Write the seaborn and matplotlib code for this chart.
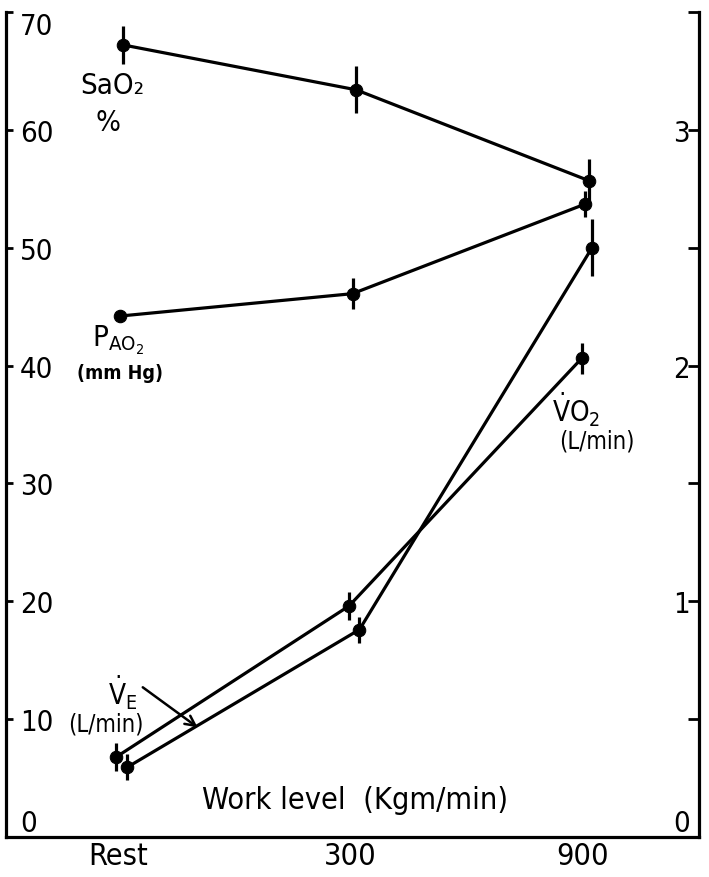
import numpy as np
import pandas as pd
import matplotlib
matplotlib.use("Agg")
import matplotlib.pyplot as plt
import seaborn as sns

# ---------------- data ----------------
work_levels = ["Rest", "300", "900"]
sao2 = [67.2, 63.4, 55.7]          # % (left axis)
sao2_err = [1.6, 2.0, 1.8]
pao2 = [44.2, 46.1, 53.7]          # mm Hg (left axis)
pao2_err = [0.5, 1.3, 1.1]
ve = [5.9, 17.6, 50.0]             # L/min (left axis)
ve_err = [1.1, 1.1, 2.4]
vo2 = [0.34, 0.98, 2.03]           # L/min (right axis)
vo2_err = [0.06, 0.06, 0.065]

left_ticks = [0, 10, 20, 30, 40, 50, 60, 70]
right_major = [0, 1, 2, 3]
right_minor = [0.5, 1.5, 2.5, 3.5]

# ---------------- style ----------------
sns.set_style("white")
plt.rcParams["font.family"] = ["DejaVu Sans"]
plt.rcParams["font.stretch"] = "condensed"
plt.rcParams["mathtext.fontset"] = "dejavusans"
plt.rcParams["text.color"] = "black"
plt.rcParams["axes.labelcolor"] = "black"
plt.rcParams["xtick.color"] = "black"
plt.rcParams["ytick.color"] = "black"

LW = 2.3
fig = plt.figure(figsize=(7.09, 8.78), dpi=100)
ax = fig.add_axes([0.0085, 0.0456, 0.9774, 0.9396])
ax2 = ax.twinx()

xpos = np.arange(len(work_levels), dtype=float)
series = [
    (ax, sao2, sao2_err, 0.025),
    (ax, pao2, pao2_err, 0.01),
    (ax, ve, ve_err, 0.04),
    (ax2, vo2, vo2_err, -0.005),
]
for a, vals, err, off in series:
    xs = xpos + off
    sns.lineplot(x=xs, y=vals, ax=a, color="k", lw=LW, sort=False,
                 errorbar=None, marker="o", markersize=9,
                 markeredgecolor="k", markerfacecolor="k")
    a.errorbar(xs, vals, yerr=err, fmt="none", ecolor="k",
               elinewidth=LW, capsize=0)

# ---------------- axes ----------------
ax.set_xlim(-0.48, 2.5)
ax.set_ylim(0, 70)
ax2.set_ylim(0, 3.5)

for a in (ax, ax2):
    a.spines["top"].set_visible(False)
    for s in a.spines.values():
        s.set_linewidth(LW)
        s.set_color("k")
ax2.spines["left"].set_visible(False)
ax2.spines["bottom"].set_visible(False)
ax.spines["right"].set_visible(False)

ax.set_xticks(xpos)
ax.set_xticklabels(work_levels)
ax.tick_params(axis="x", direction="in", length=7, width=1.5,
               labelsize=22, pad=3, colors="k")

ax.set_yticks(left_ticks)
ax.set_yticklabels([str(t) for t in left_ticks])
ax.tick_params(axis="y", direction="in", length=5, width=2,
               labelsize=21, pad=-10, colors="k")
for lbl in ax.get_yticklabels():
    lbl.set_horizontalalignment("left")
ylbls = ax.get_yticklabels()
ylbls[0].set_verticalalignment("bottom")
ylbls[-1].set_verticalalignment("top")

ax2.set_yticks(right_major)
ax2.set_yticklabels([str(t) for t in right_major])
ax2.set_yticks(right_minor, minor=True)
ax2.tick_params(axis="y", which="both", direction="in", length=8, width=2,
                labelsize=21, pad=-6.5, colors="k")
for lbl in ax2.get_yticklabels():
    lbl.set_horizontalalignment("right")
ax2.get_yticklabels()[0].set_verticalalignment("bottom")

ax.set_xlabel("")
ax.set_ylabel("")
ax2.set_ylabel("")

# ---------------- labels inside the plot ----------------
txt = dict(color="black", ha="center", va="center")
ax.text(-0.022, 63.8, "SaO₂", fontsize=21, **txt)
ax.text(-0.043, 60.7, "%", fontsize=21, **txt)
ax.text(0.0, 42.2, r"P$_{\mathrm{AO}_2}$", fontsize=21, **txt)
ax.text(0.01, 39.4, "(mm Hg)", fontsize=14, fontweight="bold", **txt)
ax.text(0.02, 12.3, r"$\dot{\mathrm{V}}_{\mathrm{E}}$", fontsize=20, **txt)
ax.text(-0.052, 9.6, "(L/min)", fontsize=17, **txt)
ax.annotate("", xy=(0.344, 9.3), xytext=(0.108, 12.7),
            arrowprops=dict(arrowstyle="->", color="k", lw=1.8,
                            shrinkA=0, shrinkB=0, mutation_scale=18))
ax.text(1.974, 36.3, r"$\dot{\mathrm{V}}\mathrm{O}_2$", fontsize=20, **txt)
ax.text(2.06, 33.6, "(L/min)", fontsize=17, **txt)
ax.text(1.02, 3.2, "Work level  (Kgm/min)", fontsize=22, **txt)

fig.savefig("out.png", dpi=100, facecolor="white")
